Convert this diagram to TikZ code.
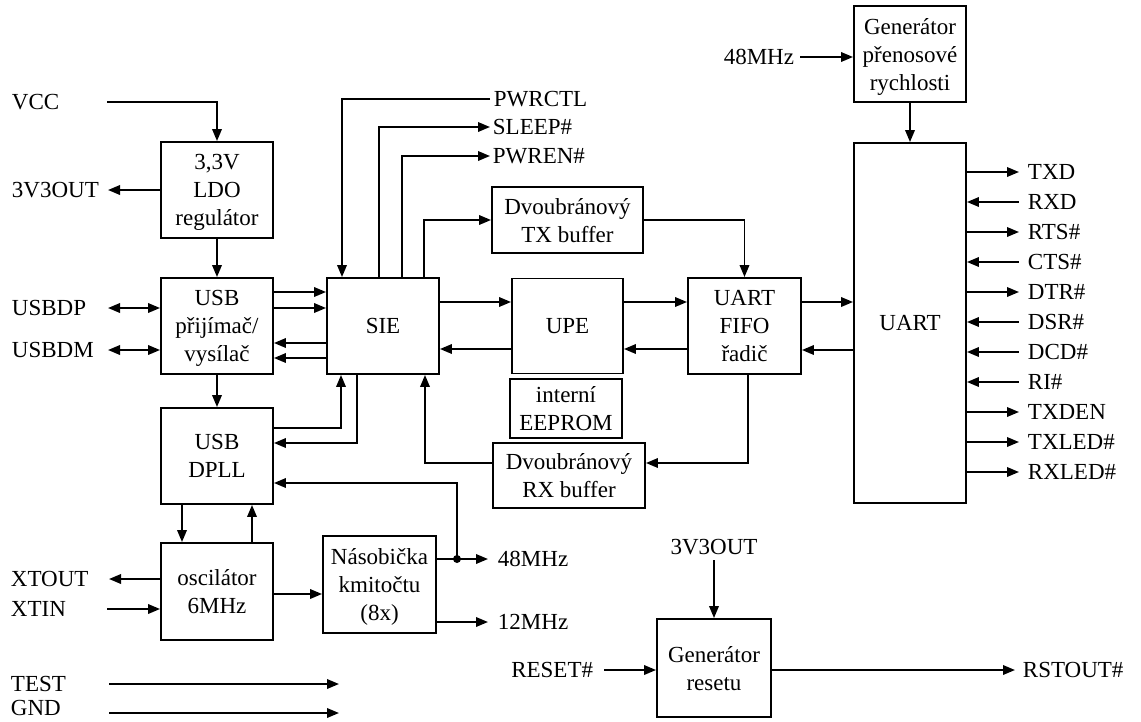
\documentclass[tikz,border=0pt]{standalone}
\usepackage{fontspec}
\setmainfont{Liberation Serif}
\usetikzlibrary{arrows.meta}
\begin{document}
\begin{tikzpicture}[x=1pt,y=-1pt,
  font=\fontsize{23}{28}\selectfont,
  line width=1.9pt,
  arr/.style={-{Triangle[length=12pt,width=9.5pt]}},
  rarr/.style={{Triangle[length=12pt,width=9.5pt]}-},
  darr/.style={{Triangle[length=12pt,width=9.5pt]}-{Triangle[length=12pt,width=9.5pt]}},
  sigo/.style={arr},
  sigi/.style={rarr},
  blk/.style={draw, line width=1.9pt, align=center, inner sep=0pt, text depth=0pt},
  lbl/.style={inner sep=0pt, anchor=west, text height=15pt, text depth=0pt},
]
\useasboundingbox (0,0) rectangle (1141,721);

% blocks
\node[blk, minimum width=112pt, minimum height=96pt] (ldo) at (217,190) {3,3V\\LDO\\regulátor};
\node[blk, minimum width=112pt, minimum height=96pt] (usb) at (217,326) {USB\\přijímač/\\vysílač};
\node[blk, minimum width=112pt, minimum height=96pt] (dpll) at (217,456) {USB\\DPLL};
\node[blk, minimum width=112pt, minimum height=97pt] (osc) at (217,591.5) {oscilátor\\6MHz};
\node[blk, minimum width=113pt, minimum height=97pt] (mul) at (379.5,584.5) {Násobička\\kmitočtu\\(8x)};
\node[blk, minimum width=112pt, minimum height=96pt] (sie) at (383,326) {SIE};
\node[blk, minimum width=151pt, minimum height=66pt] (txb) at (567.5,220) {Dvoubránový\\TX buffer};
\node[blk, minimum width=111pt, minimum height=95pt] (upe) at (567.5,326) {UPE};
\node[blk, minimum width=112pt, minimum height=59pt] (eep) at (566,408.5) {interní\\EEPROM};
\node[blk, minimum width=152pt, minimum height=65pt] (rxb) at (569,475.5) {Dvoubránový\\RX buffer};
\node[blk, minimum width=113pt, minimum height=96pt] (fifo) at (744.5,326) {UART\\FIFO\\řadič};
\node[blk, minimum width=112pt, minimum height=360pt] (uart) at (910,323) {UART};
\node[blk, minimum width=112pt, minimum height=96pt] (baud) at (910,54) {Generátor\\přenosové\\rychlosti};
\node[blk, minimum width=114pt, minimum height=98pt] (rst) at (714,668) {Generátor\\resetu};

% left labels
\node[lbl] (lvcc) at (11,102) {VCC};
\node[lbl] (l3v) at (11,190) {3V3OUT};
\node[lbl] (ldp) at (11,308) {USBDP};
\node[lbl] (ldm) at (11,350) {USBDM};
\node[lbl] (lxo) at (10,579) {XTOUT};
\node[lbl] (lxi) at (10,609) {XTIN};
\node[lbl] (lt) at (10,684) {TEST};
\node[lbl] (lg) at (10,708) {GND};

% free ends
\coordinate (cvcc) at (107,102);
\coordinate (c3v) at (108,190);
\coordinate (cdp) at (108,308);
\coordinate (cdm) at (108,350);
\coordinate (cxo) at (109,579);
\coordinate (cxi) at (107,609);
\coordinate (ct1) at (109,684);
\coordinate (ct2) at (339,684);
\coordinate (cg1) at (109,713);
\coordinate (cg2) at (339,713);

\draw[arr] (cvcc) -| (ldo.north);
\draw[arr] (ldo.west) -- (c3v);
\draw[arr] (ldo) -- (usb);
\draw[darr] (cdp) -- (cdp -| usb.west);
\draw[darr] (cdm) -- (cdm -| usb.west);
\draw[arr] (usb.east |- 0,292) -- (sie.west |- 0,292);
\draw[arr] (usb.east |- 0,308) -- (sie.west |- 0,308);
\draw[arr] (sie.west |- 0,343) -- (usb.east |- 0,343);
\draw[arr] (sie.west |- 0,358) -- (usb.east |- 0,358);
\draw[arr] (usb) -- (dpll);
\draw[arr] (182,0 |- dpll.south) -- (182,0 |- osc.north);
\draw[arr] (252,0 |- osc.north) -- (252,0 |- dpll.south);
\draw[arr] (osc.west |- cxo) -- (cxo);
\draw[arr] (cxi) -- (cxi -| osc.west);
\draw[arr] (osc.east |- 0,594) -- (mul.west |- 0,594);
\draw[arr] (ct1) -- (ct2);
\draw[arr] (cg1) -- (cg2);

% SIE top signals
\coordinate (cpwr) at (490,99);
\coordinate (cslp) at (490,127);
\coordinate (cpwe) at (490,156);
\node[lbl] (lpwr) at (493,99) {PWRCTL};
\node[lbl] (lslp) at (492,127) {SLEEP\#};
\node[lbl] (lpwe) at (492,156) {PWREN\#};
\draw[arr] (cpwr) -| (342,0 |- sie.north);
\draw[arr] (379,0 |- sie.north) |- (cslp);
\draw[arr] (402,0 |- sie.north) |- (cpwe);
\draw[arr] (424,0 |- sie.north) |- (txb.west);
\draw[arr] (txb.east) -| (fifo.north);

% SIE - DPLL
\draw[arr] (dpll.east |- 0,428) -| (341,0 |- sie.south);
\draw[arr] (357,0 |- sie.south) |- (dpll.east |- 0,443);

% SIE - UPE - FIFO - UART
\draw[arr] (sie.east |- 0,302) -- (upe.west |- 0,302);
\draw[arr] (upe.west |- 0,349) -- (sie.east |- 0,349);
\draw[arr] (upe.east |- 0,302) -- (fifo.west |- 0,302);
\draw[arr] (fifo.west |- 0,349) -- (upe.east |- 0,349);
\draw[arr] (fifo.east |- 0,302) -- (uart.west |- 0,302);
\draw[arr] (uart.west |- 0,350) -- (fifo.east |- 0,350);

% RX buffer
\draw[arr] (748,0 |- fifo.south) |- (rxb.east |- 0,463);
\draw[arr] (rxb.west |- 0,463) -| (425,0 |- sie.south);

% baud generator
\coordinate (c48t) at (800,57);
\node[lbl, anchor=east] (l48t) at (795,57) {48MHz};
\draw[arr] (c48t) -- (c48t -| baud.west);
\draw[arr] (baud) -- (uart);

% UART signals
\foreach \t/\d [count=\i from 0] in {TXD/o,RXD/i,RTS\#/o,CTS\#/i,DTR\#/o,DSR\#/i,DCD\#/i,RI\#/i,TXDEN/o,TXLED\#/o,RXLED\#/o}{
  \pgfmathsetmacro\yy{172+30*\i}
  \coordinate (u\i) at (1019,\yy);
  \node[lbl] (ul\i) at (1027,\yy) {\t};
  \draw[sig\d] (uart.east |- u\i) -- (u\i);
}

% multiplier outputs
\coordinate (dot) at (457,559);
\coordinate (c48b) at (488,559);
\coordinate (c12) at (488,622);
\node[lbl] (l48b) at (497,559) {48MHz};
\node[lbl] (l12) at (497,622) {12MHz};
\draw[arr] (mul.east |- c48b) -- (c48b);
\draw[arr] (mul.east |- c12) -- (c12);
\draw[arr] (dot) |- (dpll.east |- 0,483);
\fill (dot) circle (4pt);

% reset generator
\coordinate (c3vr) at (714,560);
\coordinate (crs) at (604,670);
\coordinate (cro) at (1015,670);
\node[lbl, anchor=south] (l3vr) at (714,555) {3V3OUT};
\node[lbl, anchor=east] (lrs) at (594,670) {RESET\#};
\node[lbl] (lro) at (1022,670) {RSTOUT\#};
\draw[arr] (c3vr) -- (rst.north);
\draw[arr] (crs) -- (crs -| rst.west);
\draw[arr] (rst.east |- cro) -- (cro);
\end{tikzpicture}
\end{document}
